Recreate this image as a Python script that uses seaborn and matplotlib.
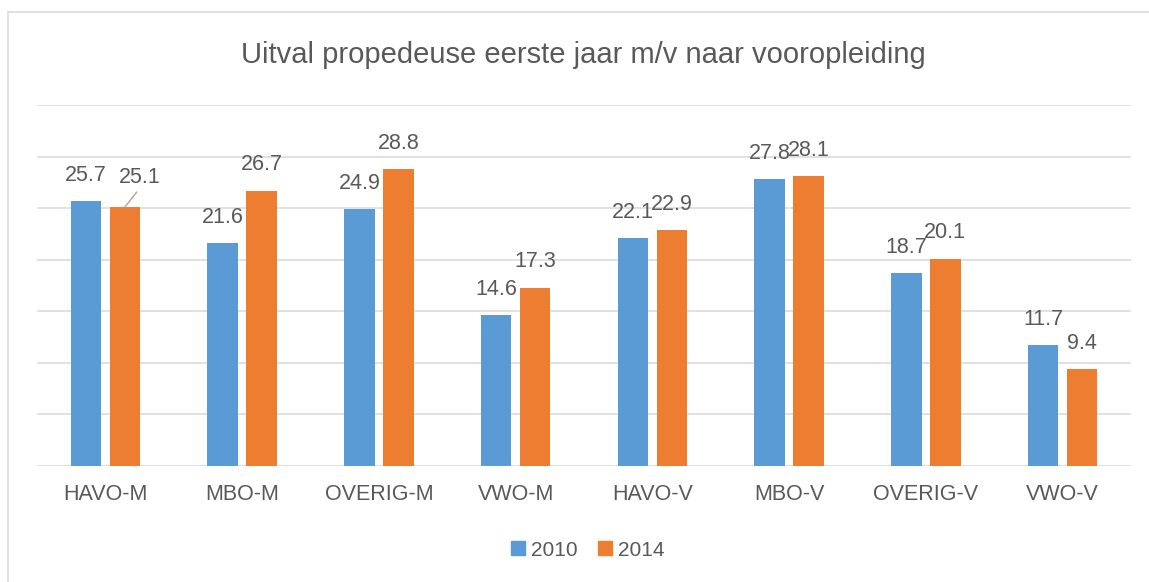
import numpy as np
import pandas as pd
import matplotlib
matplotlib.use("Agg")
import matplotlib.pyplot as plt
import seaborn as sns
from matplotlib.lines import Line2D

# Data
categorieen = ["HAVO-M", "MBO-M", "OVERIG-M", "VWO-M", "HAVO-V", "MBO-V", "OVERIG-V", "VWO-V"]
jaren = ["2010", "2014"]
uitval_2010 = [25.7, 21.6, 24.9, 14.6, 22.1, 27.8, 18.7, 11.7]
uitval_2014 = [25.1, 26.7, 28.8, 17.3, 22.9, 28.1, 20.1, 9.4]

df = pd.DataFrame({
    "Vooropleiding": categorieen * 2,
    "Jaar": [jaren[0]] * len(categorieen) + [jaren[1]] * len(categorieen),
    "Uitval": uitval_2010 + uitval_2014,
})

# Stijl
sns.set_theme(style="white")
plt.rcParams["font.family"] = ["Liberation Sans", "DejaVu Sans"]
grijs_tekst = "#595959"
grijs_lijn = "#D9D9D9"
kleuren = {"2010": "#5B9BD5", "2014": "#ED7D31"}

fig = plt.figure(figsize=(11.49, 5.82), dpi=100)
ax = fig.add_axes([37 / 1149, 1 - 466 / 582, (1131 - 37) / 1149, (466 - 105) / 582])

sns.barplot(data=df, x="Vooropleiding", y="Uitval", hue="Jaar", palette=kleuren,
            width=0.57, gap=0.22, linewidth=0, saturation=1, ax=ax, legend=False)

ax.set_ylim(0, 35)
ax.set_yticks(np.arange(0, 36, 5))
ax.set_yticklabels([])
ax.yaxis.grid(True, color=grijs_lijn, linewidth=1.1)
ax.set_axisbelow(True)
ax.set_xlabel("")
ax.set_ylabel("")
for s in ax.spines.values():
    s.set_visible(False)
ax.tick_params(axis="x", length=0, pad=13, labelsize=15.5, labelcolor=grijs_tekst)
ax.tick_params(axis="y", length=0)

# Datalabels
for container, waarden in zip(ax.containers, [uitval_2010, uitval_2014]):
    for bar, v in zip(container, waarden):
        xc = bar.get_x() + bar.get_width() / 2
        if v == 25.1 and waarden is uitval_2014:
            # label verschoven, met verbindingslijn
            ax.annotate(f"{v:.1f}", (xc, v), xytext=(11, 21.5), textcoords="offset points",
                        ha="center", va="center", fontsize=15.5, color=grijs_tekst,
                        arrowprops=dict(arrowstyle="-", color="#A6A6A6", lw=1.0,
                                        relpos=(0.5, 0), patchA=None,
                                        shrinkA=4, shrinkB=0))
        else:
            ax.annotate(f"{v:.1f}", (xc, v), xytext=(0, 18.5), textcoords="offset points",
                        ha="center", va="center", fontsize=15.5, color=grijs_tekst)

# Titel
fig.text(583 / 1149, 1 - 63 / 582, "Uitval propedeuse eerste jaar m/v naar vooropleiding",
         ha="center", va="baseline", fontsize=21, color=grijs_tekst)

# Legenda
handles = [plt.Rectangle((0, 0), 1, 1, color=kleuren[j]) for j in jaren]
fig.legend(handles, jaren, loc="center", bbox_to_anchor=(588 / 1149, 1 - 550 / 582),
           ncol=2, frameon=False, fontsize=15, labelcolor=grijs_tekst,
           handlelength=0.65, handleheight=0.65, handletextpad=0.3, columnspacing=1.0)

# Kader
fig.add_artist(Line2D([7.5 / 1149, 7.5 / 1149], [0, 1 - 12 / 582], color=grijs_lijn,
                      lw=1.1, transform=fig.transFigure))
fig.add_artist(Line2D([7.5 / 1149, 1], [1 - 12 / 582, 1 - 12 / 582], color=grijs_lijn,
                      lw=1.1, transform=fig.transFigure))

fig.savefig("out.png", dpi=100, facecolor="white")
